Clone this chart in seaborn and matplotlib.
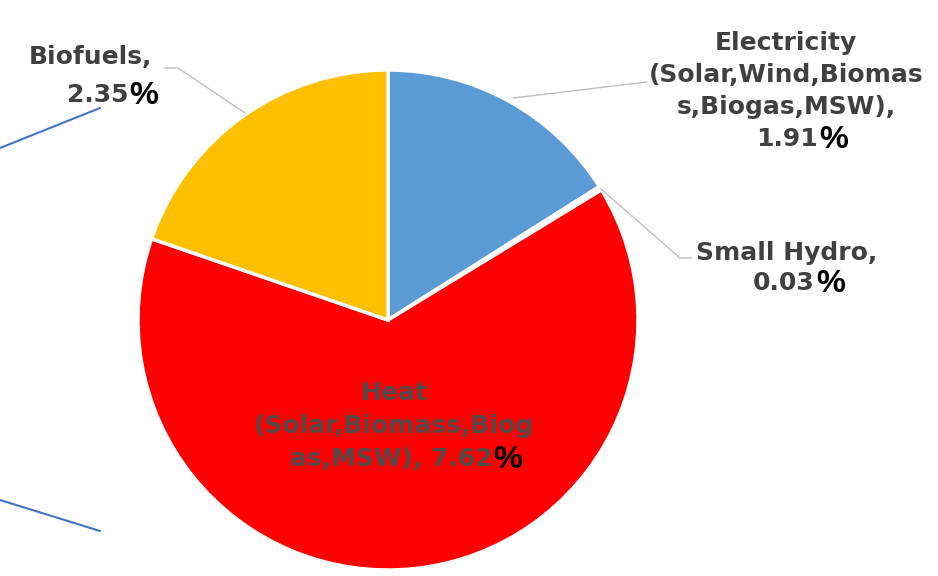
import matplotlib
matplotlib.use("Agg")
import matplotlib.pyplot as plt
import seaborn as sns

# ---- data ----
categories = ["Electricity (Solar,Wind,Biomass,Biogas,MSW)", "Small Hydro",
              "Heat (Solar,Biomass,Biogas,MSW)", "Biofuels"]
values = [1.91, 0.03, 7.62, 2.35]
value_labels = ["1.91", "0.03", "7.62", "2.35"]
colors = ["#5B9BD5", "#A5A5A5", "#FF0000", "#FFC000"]

sns.set_theme(style="white")
plt.rcParams['font.family'] = ['DejaVu Sans']

W, H = 938, 576
fig = plt.figure(figsize=(W / 100, H / 100), dpi=100)
ax = fig.add_axes([0, 0, 1, 1])

def Y(py):
    return H - py

ax.pie(values, colors=colors, startangle=90, counterclock=False,
       center=(388, Y(320)), radius=250,
       wedgeprops=dict(edgecolor="white", linewidth=2.5))
ax.set_xlim(0, W)
ax.set_ylim(0, H)
ax.set_aspect("equal")
ax.axis("off")

FS = 18
TXT = "#404040"
lead = dict(color="#BFBFBF", lw=1.0)

def label(lines, num, cx, y0, dy, color=TXT, num_x=None):
    for i, ln in enumerate(lines):
        ax.text(cx, Y(y0 + i * dy), ln, ha="center", va="center",
                fontsize=FS, fontweight="bold", color=color)
    yl = y0 + len(lines) * dy
    ax.text(num_x, Y(yl), num, ha="right", va="center",
            fontsize=FS, fontweight="bold", color=color)
    ax.text(num_x + 1, Y(yl + 1), "%", ha="left", va="center",
            fontsize=FS * 1.3, fontweight="bold", color="black",
            family=["Liberation Sans", "DejaVu Sans"])

# Electricity
label(["Electricity", "(Solar,Wind,Biomas", "s,Biogas,MSW),"], value_labels[0],
      786, 43, 32, num_x=818)
# Small Hydro
label(["Small Hydro,"], value_labels[1], 787, 253, 30, num_x=815)
# Heat (inside)
label(["Heat", "(Solar,Biomass,Biog"], "as,MSW), " + value_labels[2],
      394, 393, 33, color="#554848", num_x=492)
# Biofuels
label(["Biofuels,"], value_labels[3], 90, 57, 38, num_x=128)

# leader lines
ax.plot([513, 647], [Y(98), Y(82)], **lead)
ax.plot([601, 680, 692], [Y(189), Y(258), Y(258)], **lead)
ax.plot([165, 178, 245], [Y(68), Y(68), Y(113)], **lead)

# decorative blue lines from the source slide
ax.plot([0, 100], [Y(148), Y(108)], color="#4472C4", lw=1.5)
ax.plot([0, 100], [Y(500), Y(531)], color="#4472C4", lw=1.5)

fig.savefig("out.png", dpi=100, facecolor="white")
